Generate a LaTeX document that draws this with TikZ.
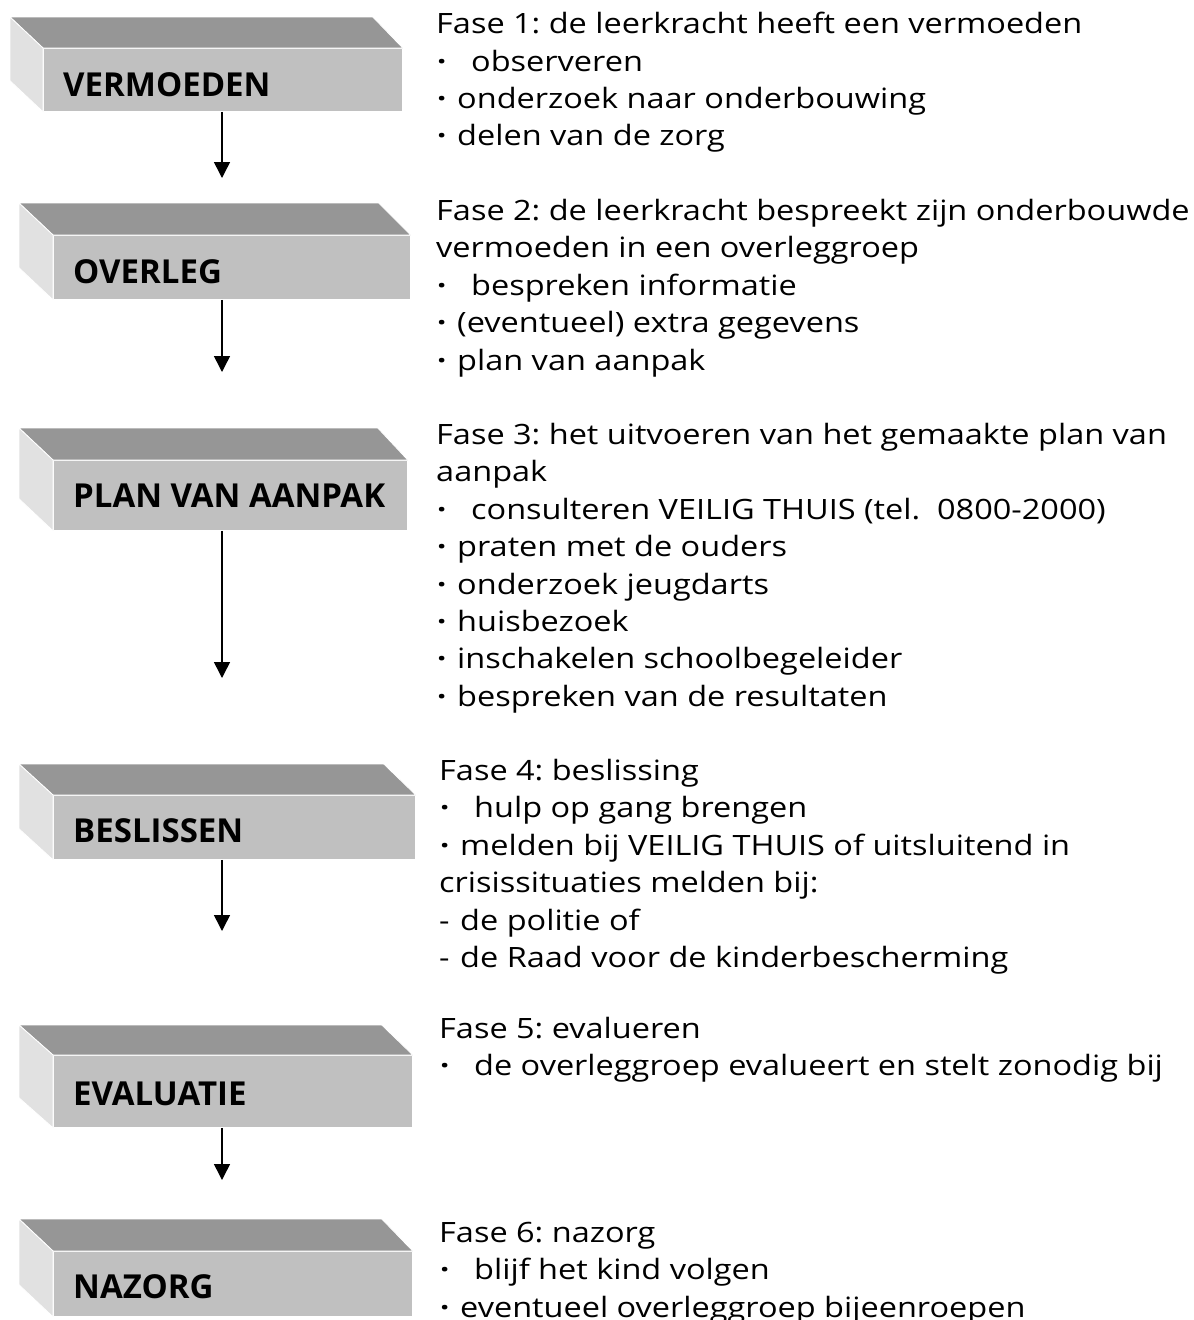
\documentclass[tikz,border=0pt]{standalone}
\usepackage{fontspec}
\setmainfont{Open Sans}
\newfontfamily\phasefont{Open Sans}[FakeStretch=1.16]
\usetikzlibrary{arrows.meta, positioning}

\definecolor{boxtop}{RGB}{150,150,150}
\definecolor{boxfront}{RGB}{192,192,192}
\definecolor{boxside}{RGB}{225,225,225}

\newcommand{\bul}{\makebox[21pt][l]{\hspace{1pt}\textbf{·}}}
\newcommand{\bulwide}{\makebox[35pt][l]{\hspace{1pt}\textbf{·}}}
\newcommand{\dashitem}{\makebox[21pt][l]{-}}

\begin{document}
\frenchspacing
\begin{tikzpicture}[
    x=1pt, y=-1pt,
    front/.style={rectangle, draw=white, line width=0.8pt, fill=boxfront, anchor=north west, inner sep=0pt, minimum width=357, minimum height=64},
    topface/.style={draw=white, line width=0.8pt, fill=boxtop},
    sideface/.style={draw=white, line width=0.8pt, fill=boxside},
    boxlabel/.style={anchor=base west, inner sep=0pt, font=\fontsize{33}{33}\selectfont\bfseries},
    phase/.style={anchor=north west, align=left, inner sep=0pt, font=\phasefont\fontsize{28}{37.4}\selectfont},
    flow/.style={-{Triangle[length=16pt, width=16pt]}, line width=1.5pt}
  ]
  \useasboundingbox (0,0) rectangle (1194,1320);

  % Blok 1
  \node[front, minimum width=359, minimum height=63] (vermoeden) at (43,48) {};
  \path[topface] (vermoeden.north west) -- +(-33,-31) -- ([shift={(-30,-31)}]vermoeden.north east) -- (vermoeden.north east) -- cycle;
  \path[sideface] (vermoeden.north west) -- +(-33,-31) -- ([shift={(-33,-31)}]vermoeden.south west) -- (vermoeden.south west) -- cycle;
  \node[boxlabel] (vermoeden-txt) at ([shift={(20,48)}]vermoeden.north west) {VERMOEDEN};

  % Blok 2
  \node[front] (overleg) at (53,235) {};
  \path[topface] (overleg.north west) -- +(-34,-32) -- ([shift={(-32,-32)}]overleg.north east) -- (overleg.north east) -- cycle;
  \path[sideface] (overleg.north west) -- +(-34,-32) -- ([shift={(-34,-32)}]overleg.south west) -- (overleg.south west) -- cycle;
  \node[boxlabel] (overleg-txt) at ([shift={(20,48)}]overleg.north west) {OVERLEG};

  % Blok 3
  \node[front, minimum width=354, minimum height=70] (plan) at (53,460) {};
  \path[topface] (plan.north west) -- +(-34,-32) -- ([shift={(-30,-32)}]plan.north east) -- (plan.north east) -- cycle;
  \path[sideface] (plan.north west) -- +(-34,-32) -- ([shift={(-34,-32)}]plan.south west) -- (plan.south west) -- cycle;
  \node[boxlabel] (plan-txt) at ([shift={(20,47)}]plan.north west) {PLAN VAN AANPAK};

  % Blok 4
  \node[front, minimum width=362] (beslissen) at (53,795) {};
  \path[topface] (beslissen.north west) -- +(-34,-31) -- ([shift={(-32,-31)}]beslissen.north east) -- (beslissen.north east) -- cycle;
  \path[sideface] (beslissen.north west) -- +(-34,-31) -- ([shift={(-34,-31)}]beslissen.south west) -- (beslissen.south west) -- cycle;
  \node[boxlabel] (beslissen-txt) at ([shift={(20,47)}]beslissen.north west) {BESLISSEN};

  % Blok 5
  \node[front, minimum width=359, minimum height=72] (evaluatie) at (53,1055) {};
  \path[topface] (evaluatie.north west) -- +(-34,-30) -- ([shift={(-31,-30)}]evaluatie.north east) -- (evaluatie.north east) -- cycle;
  \path[sideface] (evaluatie.north west) -- +(-34,-30) -- ([shift={(-34,-30)}]evaluatie.south west) -- (evaluatie.south west) -- cycle;
  \node[boxlabel] (evaluatie-txt) at ([shift={(20,50)}]evaluatie.north west) {EVALUATIE};

  % Blok 6
  \node[front, minimum width=359, minimum height=65] (nazorg) at (53,1251) {};
  \path[topface] (nazorg.north west) -- +(-34,-32) -- ([shift={(-31,-32)}]nazorg.north east) -- (nazorg.north east) -- cycle;
  \path[sideface] (nazorg.north west) -- +(-34,-32) -- ([shift={(-34,-32)}]nazorg.south west) -- (nazorg.south west) -- cycle;
  \node[boxlabel] (nazorg-txt) at ([shift={(20,47)}]nazorg.north west) {NAZORG};

  % Pijlen
  \coordinate (p1) at (222,178);
  \coordinate (p2) at (222,372);
  \coordinate (p3) at (222,678);
  \coordinate (p4) at (222,931);
  \coordinate (p5) at (222,1180);
  \draw[flow] (vermoeden.south -| p1) -- (p1);
  \draw[flow] (overleg.south -| p2) -- (p2);
  \draw[flow] (plan.south -| p3) -- (p3);
  \draw[flow] (beslissen.south -| p4) -- (p4);
  \draw[flow] (evaluatie.south -| p5) -- (p5);

  % Fasen
  \node[phase] (fase1) at (436,12) {Fase 1: de leerkracht heeft een vermoeden\\
    \bulwide observeren\\
    \bul onderzoek naar onderbouwing\\
    \bul delen van de zorg};
  \node[phase] (fase2) at (436,199) {Fase 2: de leerkracht bespreekt zijn onderbouwde\\
    vermoeden in een overleggroep\\
    \bulwide bespreken informatie\\
    \bul (eventueel) extra gegevens\\
    \bul plan van aanpak};
  \node[phase] (fase3) at (436,423) {Fase 3: het uitvoeren van het gemaakte plan van\\
    aanpak\\
    \bulwide consulteren VEILIG THUIS (tel.\ \ 0800-2000)\\
    \bul praten met de ouders\\
    \bul onderzoek jeugdarts\\
    \bul huisbezoek\\
    \bul inschakelen schoolbegeleider\\
    \bul bespreken van de resultaten};
  \node[phase] (fase4) at (439,759) {Fase 4: beslissing\\
    \bulwide hulp op gang brengen\\
    \bul melden bij VEILIG THUIS of uitsluitend in\\
    crisissituaties melden bij:\\
    \dashitem de politie of\\
    \dashitem de Raad voor de kinderbescherming};
  \node[phase] (fase5) at (439,1017) {Fase 5: evalueren\\
    \bulwide de overleggroep evalueert en stelt zonodig bij};
  \node[phase] (fase6) at (439,1222) {Fase 6: nazorg\\
    \bulwide blijf het kind volgen\\
    \bul eventueel overleggroep bijeenroepen};
\end{tikzpicture}
\end{document}
